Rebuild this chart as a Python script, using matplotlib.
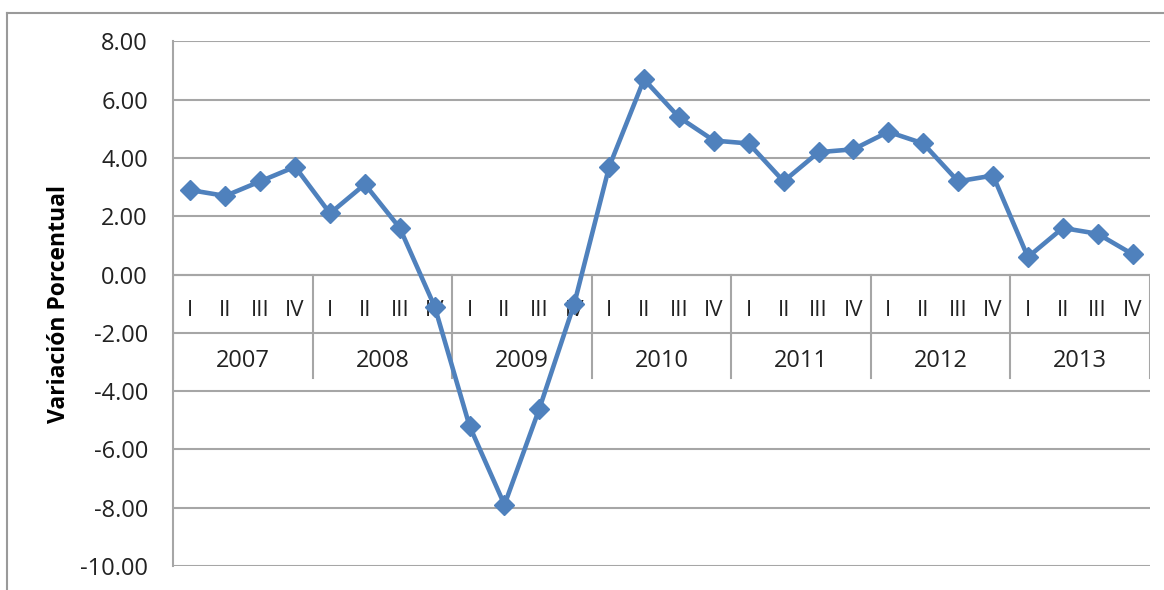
import numpy as np
import matplotlib.pyplot as plt
from matplotlib.lines import Line2D

# datos trimestrales
years = ["2007", "2008", "2009", "2010", "2011", "2012", "2013"]
quarters = ["I", "II", "III", "IV"]
values = [2.9, 2.7, 3.2, 3.7,
          2.1, 3.1, 1.6, -1.1,
          -5.2, -7.9, -4.6, -1.0,
          3.7, 6.7, 5.4, 4.6,
          4.5, 3.2, 4.2, 4.3,
          4.9, 4.5, 3.2, 3.4,
          0.6, 1.6, 1.4, 0.7]

plt.rcParams['font.family'] = ['Open Sans', 'DejaVu Sans']
grid_color = '#a6a6a6'
blue = '#4f81bd'

fig = plt.figure(figsize=(11.64, 5.90), dpi=100)
ax = fig.add_axes([0.1486, 0.0407, 0.988 - 0.1486, 0.9297 - 0.0407])

x = np.arange(len(values))
ax.plot(x, values, color=blue, lw=3.3, marker='D', markersize=10.5, zorder=5)

ax.set_xlim(-0.5, len(values) - 0.5)
ax.set_ylim(-10, 8)
ax.set_yticks(np.arange(-10, 9, 2))
ax.set_yticklabels([f"{v:.2f}" for v in np.arange(-10, 9, 2)], fontsize=17, color='#222222')
ax.tick_params(axis='y', length=0, pad=18)
ax.set_xticks([])
ax.yaxis.grid(True, color=grid_color, lw=1.5)
ax.set_axisbelow(True)
for s in ['top', 'right', 'bottom']:
    ax.spines[s].set_visible(False)
ax.spines['left'].set_color(grid_color)
ax.spines['left'].set_linewidth(1.5)

# eje de categorias en y = 0 (dos niveles)
ax.axhline(0, color=grid_color, lw=1.5, zorder=1)
for i, q in enumerate(quarters * len(years)):
    ax.text(i, -1.23, q, ha='center', va='center', fontsize=16, color='#222222', zorder=2)
for j, yr in enumerate(years):
    ax.text(4 * j + 1.5, -2.95, yr, ha='center', va='center', fontsize=17, color='#222222', zorder=2)
for j in range(len(years) + 1):
    ax.plot([4 * j - 0.5, 4 * j - 0.5], [0, -3.56], color=grid_color, lw=1.5, zorder=1)

ax.set_ylabel('Variación Porcentual', fontsize=16.5, fontweight='bold')
ax.yaxis.set_label_coords(-0.104, 0.5)

# borde del area del grafico
fig.add_artist(Line2D([7 / 1164, 1.0], [1 - 13 / 590] * 2, color='#9a9a9a', lw=1.5))
fig.add_artist(Line2D([7 / 1164] * 2, [0.0, 1 - 13 / 590], color='#9a9a9a', lw=1.5))

fig.savefig('out.png', dpi=100)
